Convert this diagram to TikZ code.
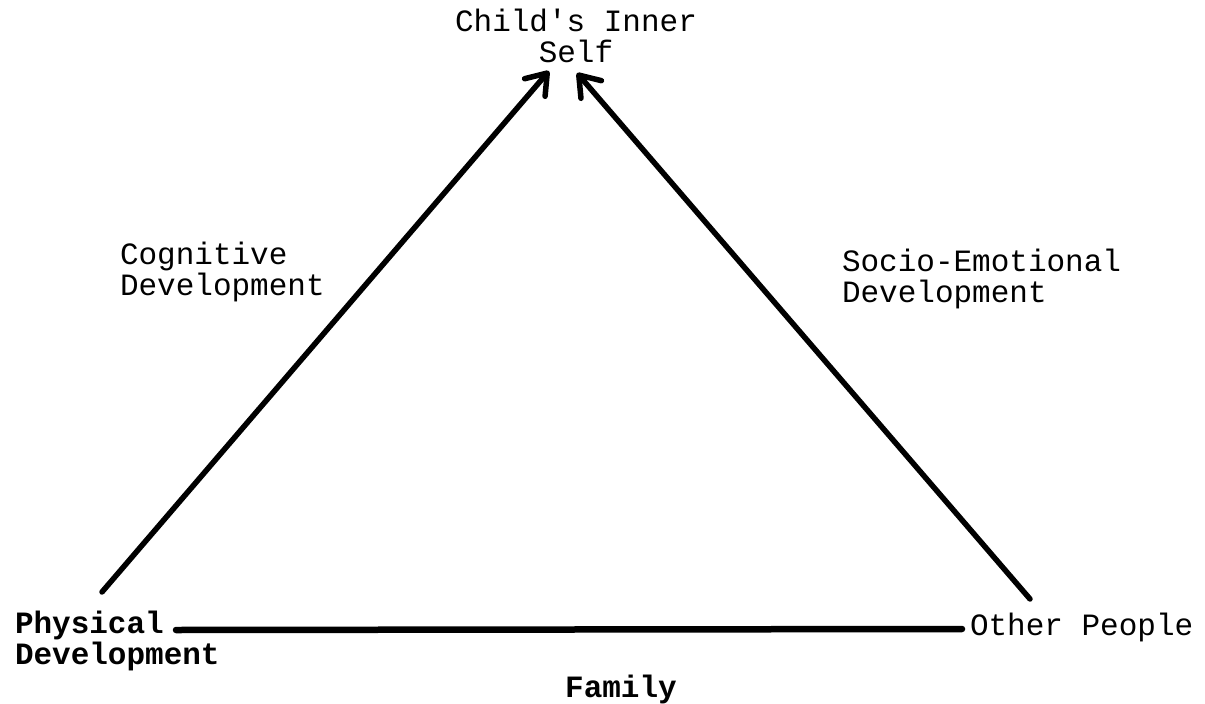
\documentclass[tikz,border=0pt]{standalone}
\usepackage{fontspec}
\setmainfont{Liberation Mono}[Ligatures=TeXOff]
\usetikzlibrary{arrows.meta}
\begin{document}
\begin{tikzpicture}[x=1pt,y=-1pt,
  lbl/.style={inner sep=0pt,outer sep=0pt,font=\fontsize{31}{31}\selectfont},
  blbl/.style={lbl,font=\fontsize{31}{31}\selectfont\bfseries},
  edge/.style={line width=5.5pt,line cap=round,line join=round},
  arr/.style={edge,-{Straight Barb[length=19pt,width=27pt,round]}}]
\useasboundingbox (0,0) rectangle (1205,704);
\node[lbl,anchor=base,align=center] (top) at (576,62) {Child's Inner\\Self};
\node[lbl,anchor=base west,align=left] (cog) at (120,295) {Cognitive\\Development};
\node[lbl,anchor=base west,align=left] (soc) at (842,302) {Socio-Emotional\\Development};
\node[blbl,anchor=base west,align=left] (phys) at (15,664) {Physical\\Development};
\node[lbl,anchor=base west] (other) at (970,635) {Other People};
\node[blbl,anchor=base] (fam) at (621,697) {Family};
\coordinate (ls) at (102,592);
\coordinate (lt) at (549,71);
\coordinate (rs) at (1030,599);
\coordinate (rt) at (577,73);
\coordinate (bs) at (176,630);
\coordinate (be) at (962,629);
\draw[arr] (ls) -- (lt);
\draw[arr] (rs) -- (rt);
\draw[edge,line width=6.5pt] (bs) -- (be);
\end{tikzpicture}
\end{document}
